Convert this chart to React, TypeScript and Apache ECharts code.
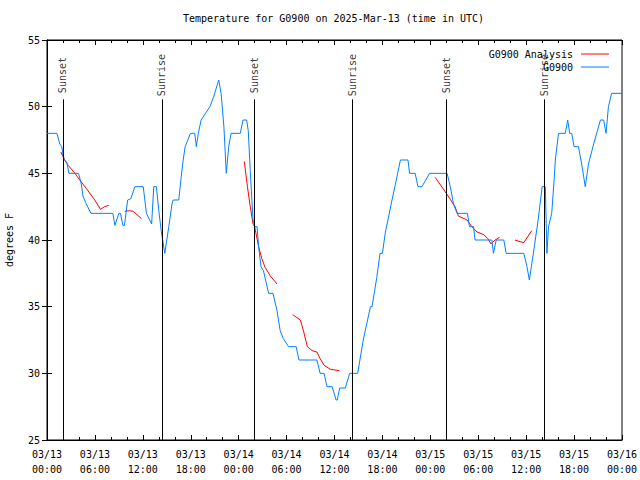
import React, { useEffect, useRef } from "react";
import * as echarts from "echarts";

// Hours since 2025-03-13 00:00 UTC, temperature in °F
const observed: [number, number][] = [
  [0, 48], [1.25, 48], [1.6, 47.2], [1.85, 47], [2.0, 46.4], [2.2, 46], [2.5, 45.8], [2.75, 45],
  [3.95, 45], [4.3, 44.2], [4.5, 43.3], [4.85, 42.8], [5.5, 42], [8.25, 42], [8.5, 41.1],
  [9.0, 42], [9.2, 42], [9.5, 41.1], [9.7, 41.1], [10.1, 43], [10.5, 43.1], [11.0, 44], [12.05, 44],
  [12.45, 42], [13.1, 41.2], [13.37, 44], [13.7, 44], [14.0, 42.2], [14.3, 40.7], [14.75, 39],
  [15.25, 41], [15.65, 42.7], [15.8, 43], [16.5, 43], [16.8, 44.7], [17.05, 46], [17.3, 47],
  [17.5, 47.3], [17.95, 48], [18.5, 48], [18.7, 47], [18.95, 48], [19.3, 49], [19.85, 49.5],
  [20.4, 50], [20.9, 50.8], [21.5, 52], [21.8, 51], [22.15, 48.5], [22.45, 45], [22.75, 47],
  [23.05, 48], [24.2, 48], [24.55, 49], [25.0, 49], [25.2, 48.2], [25.45, 45.2], [25.8, 41.5],
  [26.0, 41], [26.3, 41], [26.5, 39.5], [26.8, 38], [27.1, 37.7], [27.75, 36], [28.3, 36],
  [28.8, 34.7], [29.2, 33.2], [29.6, 32.6], [30.25, 32], [31.2, 32], [31.55, 31], [33.8, 31],
  [34.2, 30], [34.7, 30], [35.05, 29], [35.7, 29], [36.2, 28], [36.35, 28], [36.65, 28.9],
  [37.35, 28.9], [37.9, 30], [38.9, 30], [39.6, 32.5], [40.5, 35], [40.7, 35], [41.3, 37.2],
  [41.7, 39], [42.0, 39], [42.35, 40.5], [43.2, 43], [43.6, 44.1], [44.25, 46], [45.2, 46],
  [45.4, 45], [46.1, 45], [46.45, 44], [46.95, 44], [47.9, 45], [50.1, 45], [50.5, 44],
  [50.9, 42.7], [51.35, 42], [52.65, 42], [52.9, 41], [53.4, 41], [53.6, 40], [55.7, 40],
  [55.9, 39], [56.25, 40], [57.2, 40], [57.5, 39], [59.7, 39], [60.1, 38], [60.4, 37],
  [60.9, 39], [61.5, 41.5], [62.0, 44], [62.4, 44], [62.6, 39], [62.8, 41], [63.2, 42],
  [63.5, 44.5], [63.65, 46], [64.05, 48], [64.9, 48], [65.2, 49], [65.45, 48], [65.7, 48],
  [66.0, 47], [66.55, 47], [66.95, 45.7], [67.4, 44], [67.8, 45.7], [68.45, 47.2], [69.3, 49],
  [69.7, 49], [70.0, 48], [70.3, 50], [70.7, 51], [72, 51],
];

const analysis1: [number, number][] = [
  [1.73, 46.6], [2.2, 46.0], [2.65, 45.6], [3.5, 45.0], [4.1, 44.5], [4.94, 43.85],
  [5.98, 43.0], [6.7, 42.3], [7.2, 42.5], [7.74, 42.6],
];
const analysis2: [number, number][] = [
  [9.74, 42.15], [10.3, 42.2], [10.8, 42.15], [11.83, 41.6],
];
const analysis3: [number, number][] = [
  [24.7, 45.9], [25.1, 44.0], [25.4, 42.7], [25.8, 41.2], [26.0, 41.0], [26.5, 39.5],
  [26.9, 38.6], [27.3, 37.96], [27.97, 37.3], [28.8, 36.7],
];
const analysis4: [number, number][] = [
  [30.77, 34.4], [31.73, 34.0], [32.15, 33.1], [32.6, 32.0], [33.2, 31.7], [33.8, 31.6],
  [34.2, 31.1], [34.7, 30.6], [35.5, 30.3], [36.6, 30.2],
];
const analysis5: [number, number][] = [
  [48.6, 44.7], [50.0, 43.5], [51.1, 42.5], [51.5, 41.8], [52.6, 41.5], [53.2, 41.0],
  [53.85, 40.6], [54.7, 40.4], [55.2, 40.1], [55.6, 39.7], [56.1, 40.0], [56.67, 40.2],
];
const analysis6: [number, number][] = [
  [58.6, 40.0], [59.1, 39.9], [59.7, 39.8], [60.7, 40.7],
];
const analysisSegments = [analysis1, analysis2, analysis3, analysis4, analysis5, analysis6];

const sunEventNames = ["Sunset", "Sunrise", "Sunset", "Sunrise", "Sunset", "Sunrise"];
const sunEventHours = [1.98, 14.37, 26.0, 38.28, 50.04, 62.3];
const sunLineTop = 50.55;
const sunLabelValue = 52.37;

const FONT = "DejaVu Sans Mono";
const RED = "#ff0000";
const BLUE = "#0080ff";

function fmtHour(h: number): string {
  const day = 13 + Math.floor(h / 24);
  const hh = Math.round(h % 24);
  return "03/" + String(day).padStart(2, "0") + "\n" + String(hh).padStart(2, "0") + ":00";
}

export default function App() {
  const ref = useRef<HTMLDivElement>(null);
  useEffect(() => {
    if (!ref.current) return;
    const chart = echarts.init(ref.current, undefined, { renderer: "svg" });
    const txt = { fontFamily: FONT, fontSize: 10, color: "#000" };
    const series: any[] = [];
    analysisSegments.forEach((seg) => {
      series.push({
        name: "G0900 Analysis",
        type: "line",
        data: seg,
        showSymbol: false,
        symbol: "none",
        lineStyle: { color: RED, width: 1 },
        itemStyle: { color: RED },
        z: 3,
      });
    });
    series.push({
      name: "G0900",
      type: "line",
      data: observed,
      showSymbol: false,
      symbol: "none",
      lineStyle: { color: BLUE, width: 1 },
      itemStyle: { color: BLUE },
      z: 4,
    });
    series.push({
      name: "sun",
      type: "scatter",
      symbolSize: 0,
      data: sunEventHours.map((h, i) => ({ value: [h, sunLabelValue], name: sunEventNames[i] })),
      label: {
        show: true,
        position: "inside",
        rotate: 90,
        formatter: "{b}",
        ...txt,
      },
      markLine: {
        silent: true,
        symbol: "none",
        label: { show: false },
        lineStyle: { color: "#000", width: 1, type: "solid" },
        data: sunEventHours.map((h) => [{ coord: [h, 25] }, { coord: [h, sunLineTop] }]),
      },
      z: 5,
    });

    chart.setOption({
      animation: false,
      backgroundColor: "#fff",
      title: {
        text: "Temperature for G0900 on 2025-Mar-13 (time in UTC)",
        left: 178,
        top: 8,
        textStyle: { ...txt, fontWeight: "normal" },
      },
      legend: [
        {
          data: ["G0900 Analysis"],
          right: 26,
          top: 44,
          align: "right",
          icon: "rect",
          itemWidth: 28,
          itemHeight: 1,
          textStyle: { ...txt, padding: [0, 3, 0, 0] },
        },
        {
          data: ["G0900"],
          right: 26,
          top: 57,
          align: "right",
          icon: "rect",
          itemWidth: 28,
          itemHeight: 1,
          textStyle: { ...txt, padding: [0, 3, 0, 0] },
        },
      ],
      grid: {
        left: 47,
        right: 18,
        top: 40,
        bottom: 40,
        outerBoundsMode: "none",
        containLabel: false,
        show: true,
        borderColor: "#000",
        borderWidth: 1,
        backgroundColor: "transparent",
      },
      xAxis: [
        {
          type: "value",
          min: 0,
          max: 72,
          interval: 6,
          axisLine: { show: true, lineStyle: { color: "#000", width: 1 } },
          axisTick: { show: true, inside: true, length: 5, lineStyle: { color: "#000" } },
          minorTick: { show: true, splitNumber: 3, length: 3, lineStyle: { color: "#000" } },
          splitLine: { show: false },
          axisLabel: { ...txt, margin: 7, lineHeight: 15, formatter: (v: number) => fmtHour(v) },
        },
        {
          type: "value",
          position: "top",
          min: 0,
          max: 72,
          interval: 6,
          axisLine: { show: true, lineStyle: { color: "#000", width: 1 } },
          axisTick: { show: true, inside: true, length: 5, lineStyle: { color: "#000" } },
          minorTick: { show: true, splitNumber: 3, length: 3, lineStyle: { color: "#000" } },
          splitLine: { show: false },
          axisLabel: { show: false },
        },
      ],
      yAxis: [
        {
          type: "value",
          min: 25,
          max: 55,
          interval: 5,
          name: "degrees F",
          nameLocation: "middle",
          nameRotate: 90,
          nameGap: 33,
          nameTextStyle: txt,
          axisLine: { show: true, lineStyle: { color: "#000", width: 1 } },
          axisTick: { show: true, inside: true, length: 5, lineStyle: { color: "#000" } },
          splitLine: { show: false },
          axisLabel: { ...txt, margin: 7 },
        },
        {
          type: "value",
          position: "right",
          min: 25,
          max: 55,
          interval: 5,
          axisLine: { show: true, lineStyle: { color: "#000", width: 1 } },
          axisTick: { show: true, inside: true, length: 5, lineStyle: { color: "#000" } },
          splitLine: { show: false },
          axisLabel: { show: false },
        },
      ],
      series,
    });
    return () => chart.dispose();
  }, []);
  return <div ref={ref} style={{ width: 640, height: 480, position: "absolute", left: 0, top: 0 }} />;
}
